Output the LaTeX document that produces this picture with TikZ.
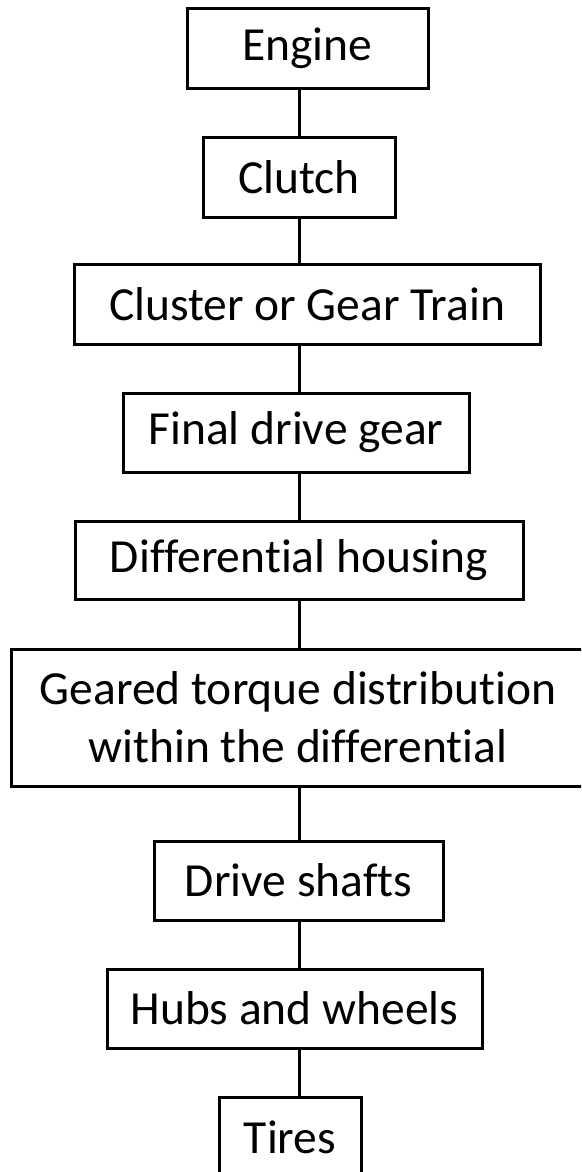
\documentclass[tikz,border=0pt]{standalone}
\usepackage{fontspec}
\setmainfont{Carlito}[Ligatures=NoCommon]
\begin{document}
\begin{tikzpicture}[x=1pt,y=-1pt,
  stage/.style={draw=black, line width=3pt, rectangle, inner sep=0pt,
    align=center, text=black, font=\fontsize{47.5}{58}\selectfont},
  link/.style={draw=black, line width=3pt}]
\useasboundingbox (0,0) rectangle (581,1172);
\clip (0,0) rectangle (581,1172);
% drivetrain stages, top to bottom
\node[stage, minimum width=241pt, minimum height=79pt] (engine) at (307.5,48.5) {Engine};
\node[stage, minimum width=192pt, minimum height=80pt] (clutch) at (299,177) {Clutch};
\node[stage, minimum width=466pt, minimum height=80pt] (cluster) at (307,304) {Cluster or Gear Train};
\node[stage, minimum width=346pt, minimum height=79pt] (final) at (296,432.5) {Final drive gear};
\node[stage, minimum width=448pt, minimum height=78pt] (housing) at (299,560) {Differential housing};
\node[stage, minimum width=574pt, minimum height=137pt] (geared) at (298,717.5) {Geared torque distribution\\within the differential};
\node[stage, minimum width=289pt, minimum height=79pt] (shafts) at (298.5,880.5) {Drive shafts};
\node[stage, minimum width=375pt, minimum height=79pt] (hubs) at (294.5,1008.5) {Hubs and wheels};
\node[stage, minimum width=142pt, minimum height=80pt] (tires) at (290,1137) {Tires};
% vertical spine carrying the connectors
\coordinate (spine) at (299,0);
\draw[link] (spine |- engine.south) -- (spine |- clutch.north);
\draw[link] (spine |- clutch.south) -- (spine |- cluster.north);
\draw[link] (spine |- cluster.south) -- (spine |- final.north);
\draw[link] (spine |- final.south) -- (spine |- housing.north);
\draw[link] (spine |- housing.south) -- (spine |- geared.north);
\draw[link] (spine |- geared.south) -- (spine |- shafts.north);
\draw[link] (spine |- shafts.south) -- (spine |- hubs.north);
\draw[link] (spine |- hubs.south) -- (spine |- tires.north);
\end{tikzpicture}
\end{document}
